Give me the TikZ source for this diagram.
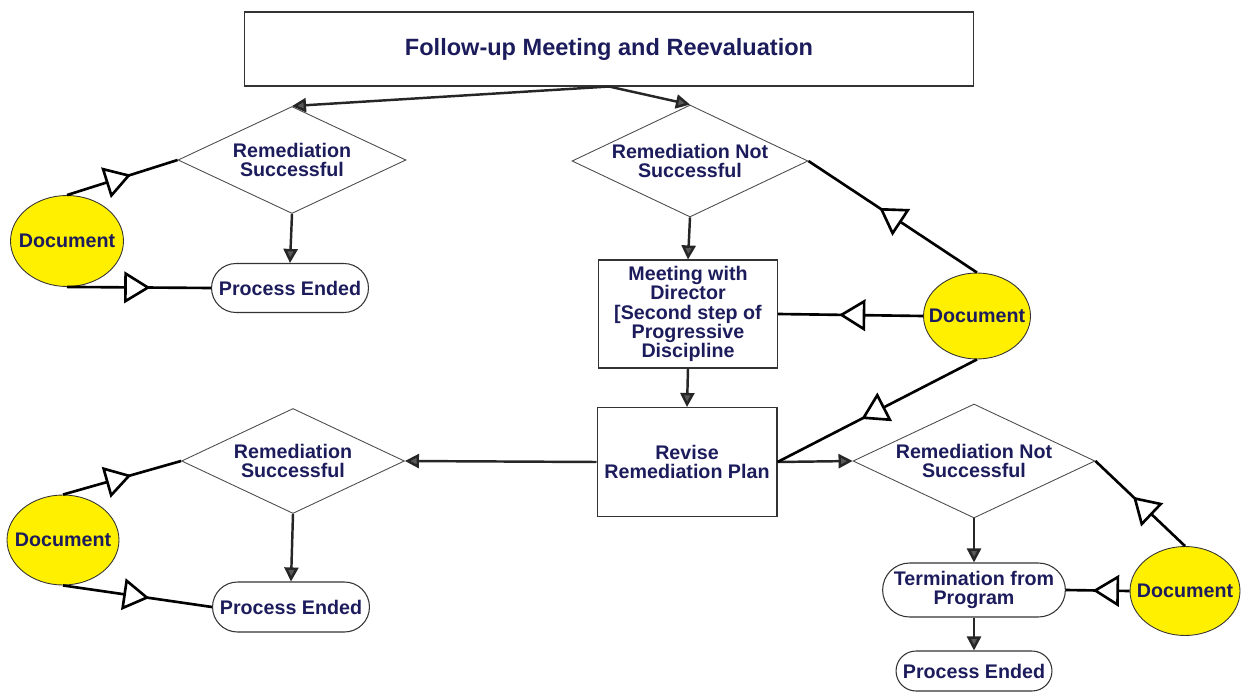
\documentclass[tikz,border=0pt]{standalone}
\usepackage{fontspec}
\setmainfont{Liberation Sans}
\usepackage{xcolor}
\usetikzlibrary{arrows.meta,shapes.geometric,shapes.misc,decorations.markings}
\newcommand{\pxu}{0.02cm}
\definecolor{navytxt}{RGB}{28,28,92}
\definecolor{docyellow}{RGB}{255,240,0}
\colorlet{headgray}{black!65}
\tikzset{
    txtsty/.style={font=\fontsize{11.2}{11}\selectfont\bfseries, text=navytxt, align=center},
    titlesty/.style={txtsty, draw=black!80, line width=0.6pt, rectangle, minimum width=14.6cm, minimum height=1.48cm, font=\fontsize{13.4}{16}\selectfont\bfseries},
    dmdsty/.style={txtsty, draw=black!70, line width=0.5pt, diamond, aspect=2.1, inner sep=0pt},
    boxsty/.style={txtsty, draw=black!80, line width=0.6pt, rectangle, inner sep=2pt},
    endsty/.style={txtsty, draw=black!80, line width=0.6pt, rounded rectangle, inner sep=2pt},
    docsty/.style={txtsty, draw=black!80, line width=0.5pt, fill=docyellow, ellipse, inner xsep=-6pt, inner ysep=0pt},
    flowsty/.style={->, draw=black!85, line width=1.4pt},
    opensty/.style={draw=black, line width=1.5pt, postaction={decorate},
        decoration={markings, mark=at position 0.58 with {\arrow{Triangle[fill=white,length=15pt,width=18pt]}}}},
}

\begin{document}
\begin{tikzpicture}[>={Triangle[length=8pt,width=8pt,fill=headgray]}, x=\pxu, y=-\pxu]
\useasboundingbox (0,0) rectangle (1246,692);

\node[titlesty] (top) at (609,49) {Follow-up Meeting and Reevaluation};

\node[dmdsty, minimum width=4.56cm, minimum height=2.14cm] (rs1) at (292,160) {Remediation\\Successful};
\node[dmdsty, minimum width=4.72cm, minimum height=2.24cm] (rn1) at (690,161) {Remediation Not\\Successful};
\node[docsty, minimum width=2.26cm, minimum height=1.82cm] (doc1) at (67,241) {Document};
\node[endsty, minimum width=3.28cm, minimum height=0.98cm] (end1) at (290,288) {Process Ended};
\node[boxsty, minimum width=3.58cm, minimum height=2.16cm] (meet) at (688,314) {Meeting with\\Director\\{[}Second step of\\Progressive\\Discipline};
\node[docsty, minimum width=2.14cm, minimum height=1.72cm] (doc2) at (977,316) {Document};
\node[boxsty, minimum width=3.6cm, minimum height=2.18cm] (revise) at (687,462) {Revise\\Remediation Plan};

\node[dmdsty, minimum width=4.46cm, minimum height=2.1cm] (rs2) at (293,461) {Remediation\\Successful};
\node[dmdsty, minimum width=4.84cm, minimum height=2.28cm] (rn2) at (974,461) {Remediation Not\\Successful};
\node[docsty, minimum width=2.24cm, minimum height=1.8cm] (doc3) at (63,540) {Document};
\node[endsty, minimum width=3.28cm, minimum height=1.0cm] (end2) at (291,607) {Process Ended};
\node[endsty, minimum width=3.56cm, minimum height=1.08cm] (term) at (974,590) {Termination from\\Program};
\node[docsty, minimum width=2.2cm, minimum height=1.78cm] (doc4) at (1185,591) {Document};
\node[endsty, minimum width=3.26cm, minimum height=0.8cm] (end3) at (974,671) {Process Ended};

\draw[flowsty] (top.south) -- (rs1.north);
\draw[flowsty] (top.south) -- (rn1.north);
\draw[flowsty] (rs1.south) -- (end1.north);
\draw[flowsty] (rn1.south) -- (meet.north);
\draw[flowsty] (meet.south) -- (revise.north);
\draw[flowsty] (revise.west) -- (rs2.east);
\draw[flowsty] (revise.east) -- (rn2.west);
\draw[flowsty] (rs2.south) -- (end2.north);
\draw[flowsty] (rn2.south) -- (term.north);
\draw[flowsty] (term.south) -- (end3.north);

\draw[opensty] (doc1.north) -- (rs1.west);
\draw[opensty] (doc1.south) -- (end1.west);
\draw[opensty] (doc2.north) -- (rn1.east);
\draw[opensty] (doc2.west) -- (meet.east);
\draw[opensty] (doc2.south) -- (revise.east);
\draw[opensty] (doc3.north) -- (rs2.west);
\draw[opensty] (doc3.south) -- (end2.west);
\draw[opensty] (doc4.north) -- (rn2.east);
\draw[opensty] (doc4.west) -- (term.east);
\end{tikzpicture}
\end{document}
